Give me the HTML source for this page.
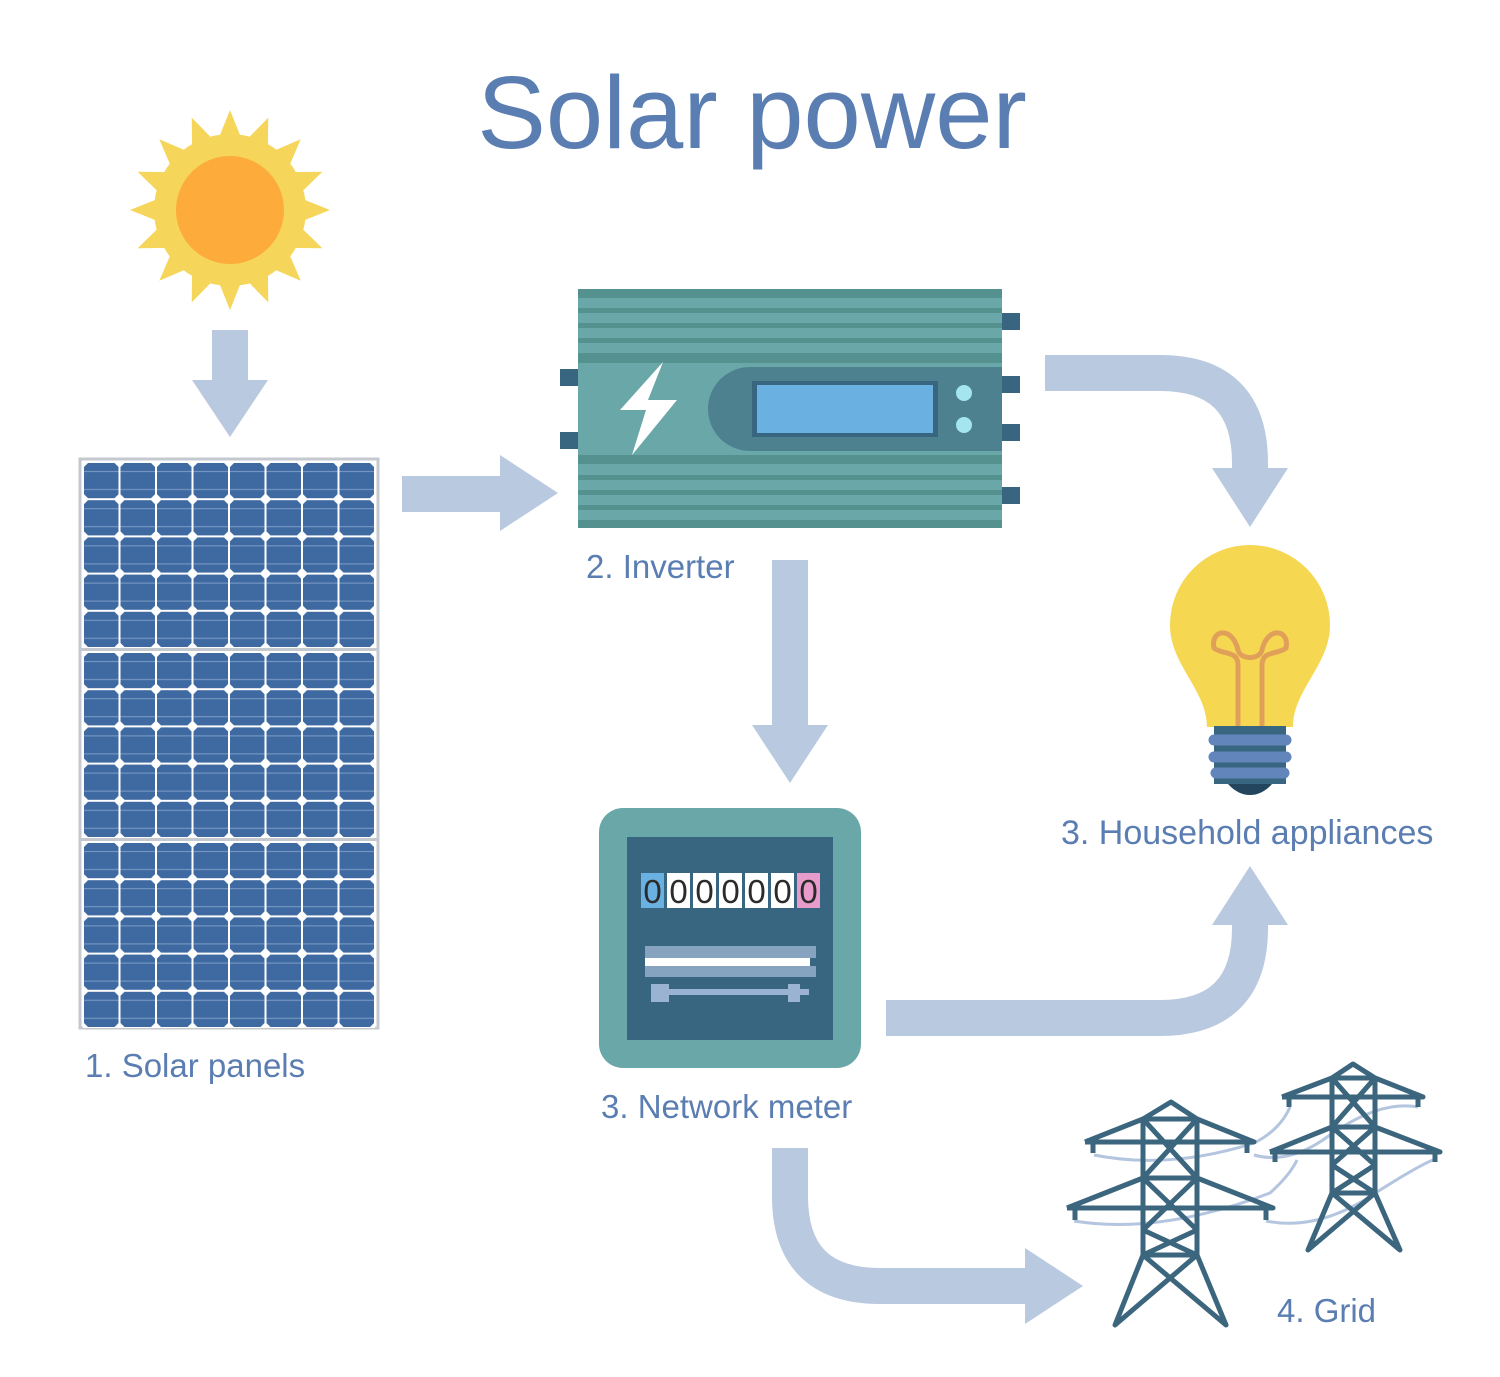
<!DOCTYPE html>
<html><head><meta charset="utf-8"><style>
html,body{margin:0;padding:0;background:#fff;}
svg{display:block;}
text{font-family:"Liberation Sans",Arial,sans-serif;fill:#5a7db2;}
</style></head><body>
<svg width="1500" height="1377" viewBox="0 0 1500 1377" xmlns="http://www.w3.org/2000/svg">
<defs>
<g id="cellg">
<rect width="36.5" height="37.2" fill="#fff"/>
<polygon points="5,1 31.5,1 35.5,5 35.5,32.2 31.5,36.2 5,36.2 1,32.2 1,5" fill="#3f6aa1"/>
<rect x="1" y="9" width="34.5" height="1" fill="#7d9cc6"/>
<rect x="1" y="27" width="34.5" height="1" fill="#7d9cc6"/>
</g>
<pattern id="cells1" patternUnits="userSpaceOnUse" x="83" y="462" width="36.5" height="37.2"><use href="#cellg"/></pattern>
<pattern id="cells2" patternUnits="userSpaceOnUse" x="83" y="652" width="36.5" height="37.2"><use href="#cellg"/></pattern>
<pattern id="cells3" patternUnits="userSpaceOnUse" x="83" y="842" width="36.5" height="37.2"><use href="#cellg"/></pattern>
</defs>

<text x="752" y="148" font-size="103" text-anchor="middle">Solar power</text>

<!-- Sun -->
<g transform="translate(230,210)">
<g fill="#f5d65a">
<circle r="76"/>
<g id="ray"><polygon points="-12,-70 0,-100 12,-70"/></g>
<use href="#ray" transform="rotate(22.5)"/><use href="#ray" transform="rotate(45)"/><use href="#ray" transform="rotate(67.5)"/>
<use href="#ray" transform="rotate(90)"/><use href="#ray" transform="rotate(112.5)"/><use href="#ray" transform="rotate(135)"/>
<use href="#ray" transform="rotate(157.5)"/><use href="#ray" transform="rotate(180)"/><use href="#ray" transform="rotate(202.5)"/>
<use href="#ray" transform="rotate(225)"/><use href="#ray" transform="rotate(247.5)"/><use href="#ray" transform="rotate(270)"/>
<use href="#ray" transform="rotate(292.5)"/><use href="#ray" transform="rotate(315)"/><use href="#ray" transform="rotate(337.5)"/>
</g>
<circle r="54" fill="#fdab3a"/>
</g>

<!-- arrows -->
<g fill="#b9c9e0">
<rect x="212" y="330" width="36" height="52"/>
<polygon points="192,380 268,380 230,437"/>
<rect x="402" y="476" width="100" height="36"/>
<polygon points="500,455 500,531 558,493"/>
<rect x="772" y="560" width="36" height="167"/>
<polygon points="752,725 828,725 790,783"/>
<polygon points="1212,468 1288,468 1250,527"/>
<polygon points="1212,925 1288,925 1250,866"/>
<polygon points="1025,1248 1025,1324 1083,1286"/>
</g>
<g fill="none" stroke="#b9c9e0" stroke-width="36">
<path d="M1045 373 L1160 373 Q1250 373 1250 463 L1250 470"/>
<path d="M886 1018 L1160 1018 Q1250 1018 1250 928 L1250 923"/>
<path d="M790 1148 L790 1196 Q790 1286 880 1286 L1027 1286"/>
</g>

<!-- Solar panels -->
<g>
<rect x="80" y="459" width="298" height="569" fill="#fff" stroke="#c4c8cf" stroke-width="3"/>
<rect x="83" y="462" width="292" height="186" fill="url(#cells1)"/>
<rect x="83" y="652" width="292" height="186" fill="url(#cells2)"/>
<rect x="83" y="842" width="292" height="186" fill="url(#cells3)"/>
<rect x="80" y="648" width="298" height="3" fill="#c4c8cf"/>
<rect x="80" y="838" width="298" height="3" fill="#c4c8cf"/>
</g>

<!-- Inverter -->
<g>
<rect x="560" y="369" width="20" height="17" fill="#386680"/>
<rect x="560" y="432" width="20" height="17" fill="#386680"/>
<rect x="1000" y="313" width="20" height="17" fill="#386680"/>
<rect x="1000" y="376" width="20" height="17" fill="#386680"/>
<rect x="1000" y="424" width="20" height="17" fill="#386680"/>
<rect x="1000" y="487" width="20" height="17" fill="#386680"/>
<rect x="578" y="289" width="424" height="239" fill="#6aa7a9"/>
<g fill="#55918f">
<rect x="578" y="289" width="424" height="9"/>
<rect x="578" y="308" width="424" height="5"/>
<rect x="578" y="323" width="424" height="5"/>
<rect x="578" y="338" width="424" height="5"/>
<rect x="578" y="353" width="424" height="10"/>
<rect x="578" y="455" width="424" height="9"/>
<rect x="578" y="475" width="424" height="5"/>
<rect x="578" y="490" width="424" height="5"/>
<rect x="578" y="505" width="424" height="5"/>
<rect x="578" y="520" width="424" height="8"/>
</g>
<path d="M750 367 H1002 V451 H750 A42 42 0 0 1 750 367 Z" fill="#4e818f"/>
<rect x="752" y="381" width="186" height="56" fill="#386680"/>
<rect x="757" y="385" width="176" height="48" fill="#6ab0e0"/>
<circle cx="964" cy="393" r="8" fill="#a3e6ef"/>
<circle cx="964" cy="425" r="8" fill="#a3e6ef"/>
<polygon points="663,362 620,410 646,410 632,455 677,400 648,400" fill="#fff"/>
</g>
<text x="586" y="578" font-size="33">2. Inverter</text>

<!-- Meter -->
<g>
<rect x="599" y="808" width="262" height="260" rx="24" fill="#6aa7a9"/>
<rect x="627" y="837" width="206" height="203" fill="#386680"/>
<rect x="641" y="873" width="23" height="35" fill="#6ab0e0"/>
<rect x="667" y="873" width="23" height="35" fill="#fff"/>
<rect x="693" y="873" width="23" height="35" fill="#fff"/>
<rect x="719" y="873" width="23" height="35" fill="#fff"/>
<rect x="745" y="873" width="23" height="35" fill="#fff"/>
<rect x="771" y="873" width="23" height="35" fill="#fff"/>
<rect x="797" y="873" width="23" height="35" fill="#e89ccb"/>
<g font-size="33" text-anchor="middle">
<text x="652.5" y="903" style="fill:#2b2b2b">0</text><text x="678.5" y="903" style="fill:#2b2b2b">0</text><text x="704.5" y="903" style="fill:#2b2b2b">0</text><text x="730.5" y="903" style="fill:#2b2b2b">0</text><text x="756.5" y="903" style="fill:#2b2b2b">0</text><text x="782.5" y="903" style="fill:#2b2b2b">0</text><text x="808.5" y="903" style="fill:#2b2b2b">0</text>
</g>
<rect x="645" y="946" width="171" height="12" fill="#86a3bf"/>
<rect x="645" y="958" width="165" height="8" fill="#fff"/>
<rect x="645" y="966" width="171" height="11" fill="#86a3bf"/>
<rect x="651" y="989" width="158" height="6" fill="#9ab3d3"/>
<rect x="651" y="984" width="18" height="18" fill="#9ab3d3"/>
<rect x="788" y="984" width="12" height="18" fill="#9ab3d3"/>
</g>
<text x="601" y="1118" font-size="33">3. Network meter</text>
<text x="85" y="1077" font-size="33">1. Solar panels</text>

<!-- Bulb -->
<g>
<path d="M1207 727 C1207 690 1170 665 1170 625 A80 80 0 0 1 1330 625 C1330 665 1293 690 1293 727 Z" fill="#f5d752"/>
<rect x="1214" y="726" width="72" height="58" fill="#386680"/>
<path d="M1228 784 H1272 Q1262 795 1250 795 Q1238 795 1228 784Z" fill="#23465e"/>
<g stroke="#6286bc" stroke-width="11" stroke-linecap="round">
<line x1="1214" y1="740" x2="1286" y2="740"/>
<line x1="1214" y1="757" x2="1286" y2="757"/>
<line x1="1216" y1="773" x2="1284" y2="773"/>
</g>
<g fill="none" stroke="#e0a05a" stroke-width="5">
<path d="M1238 726 V665 C1238 650 1222 655 1214 648 C1210 630 1232 625 1238 650 C1240 660 1260 660 1262 650 C1268 625 1290 630 1286 648 C1278 655 1262 650 1262 665 V726"/>
</g>
</g>
<text x="1061" y="844" font-size="34">3. Household appliances</text>

<!-- Grid -->
<g fill="none" stroke="#b4c5df" stroke-width="3">
<path d="M1094 1155 Q1170 1170 1254 1143 Q1280 1130 1290 1107"/>
<path d="M1074 1221 Q1160 1235 1270 1193 Q1290 1175 1297 1160"/>
<path d="M1254 1155 Q1290 1165 1330 1135 Q1380 1100 1418 1107"/>
<path d="M1266 1221 Q1320 1232 1380 1190 Q1420 1165 1433 1160"/>
</g>
<g fill="none" stroke="#3b667e" stroke-width="5" stroke-linejoin="round">
<path d="M1143 1255 V1119 L1171 1102 L1197 1119 V1255"/>
<path d="M1143 1119 H1197 M1085 1142 H1254 L1197 1119 M1143 1119 L1085 1142"/>
<path d="M1067 1208 H1273 L1197 1178 M1143 1178 L1067 1208"/>
<path d="M1143 1178 H1197 M1143 1255 H1197"/>
<path d="M1143 1119 L1197 1178 M1197 1119 L1143 1178 M1143 1178 L1197 1230 M1197 1178 L1143 1230 M1143 1230 L1197 1255 M1197 1230 L1143 1255"/>
<path d="M1143 1255 L1115 1325 L1197 1255 M1197 1255 L1226 1325 L1143 1255"/>
<path d="M1093 1142 V1153 M1247 1142 V1153 M1075 1208 V1220 M1266 1208 V1220"/>
<path d="M1332 1193 V1078 L1353 1064 L1375 1078 V1193"/>
<path d="M1332 1078 H1375 M1282 1097 H1423 L1375 1078 M1332 1078 L1282 1097"/>
<path d="M1270 1152 H1440 L1375 1127 M1332 1127 L1270 1152"/>
<path d="M1332 1127 H1375 M1332 1193 H1375"/>
<path d="M1332 1078 L1375 1127 M1375 1078 L1332 1127 M1332 1127 L1375 1165 M1375 1127 L1332 1165 M1332 1165 L1375 1193 M1375 1165 L1332 1193"/>
<path d="M1332 1193 L1308 1250 L1375 1193 M1375 1193 L1400 1250 L1332 1193"/>
<path d="M1289 1097 V1107 M1418 1097 V1107 M1275 1152 V1162 M1435 1152 V1162"/>
</g>
<text x="1277" y="1322" font-size="33">4. Grid</text>
</svg>
</body></html>
